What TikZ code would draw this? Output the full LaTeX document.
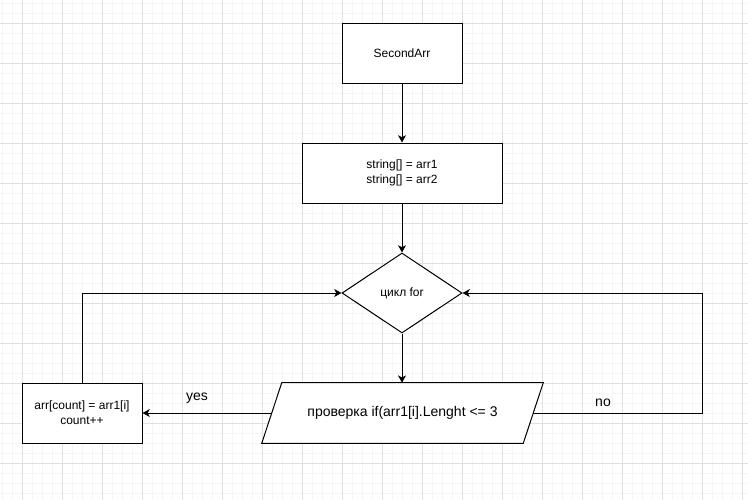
\documentclass[tikz,border=0pt]{standalone}
\usepackage{fontspec}
\setmainfont{Liberation Sans}
\usetikzlibrary{shapes.geometric,arrows.meta}
\definecolor{gridmajor}{HTML}{E0E0E0}
\definecolor{gridminor}{HTML}{F5F5F5}
\tikzset{
  minorgrid/.style={draw=gridminor, line width=0.75pt},
  majorgrid/.style={draw=gridmajor, line width=0.75pt},
  procbox/.style={draw, line width=0.75pt, fill=white, font=\fontsize{9}{11}\selectfont, align=center, inner sep=0pt},
  decision/.style={diamond, draw, line width=0.75pt, fill=white, minimum width=90pt, minimum height=60pt, inner sep=0pt, aspect=1.5, font=\fontsize{9}{11}\selectfont},
  ghost/.style={inner sep=0pt, minimum width=195.75pt, minimum height=45pt, font=\fontsize{10.5}{12}\selectfont},
  conn/.style={line width=0.75pt, -{Stealth[length=5.5pt,width=6pt,inset=1.5pt]}},
  lbl/.style={font=\fontsize{10.5}{12}\selectfont, inner sep=0pt}
}
\begin{document}
\begin{tikzpicture}[x=0.75pt,y=-0.75pt]
\fill[white] (0,0) rectangle (748,500);
\useasboundingbox (0,0) rectangle (748,500);
\foreach \x in {2,12,...,742} \draw[minorgrid] (\x,0) -- (\x,500);
\foreach \y in {3,13,...,493} \draw[minorgrid] (0,\y) -- (748,\y);
\foreach \x in {22,62,...,742} \draw[majorgrid] (\x,0) -- (\x,500);
\foreach \y in {23,63,...,493} \draw[majorgrid] (0,\y) -- (748,\y);

\node[procbox, minimum width=90pt, minimum height=45pt] (a) at (402,53) {SecondArr};
\node[procbox, minimum width=150pt, minimum height=45pt] (b) at (402,173) {string[] = arr1\\string[] = arr2};
\node[decision] (d) at (402,293) {цикл for};
\node[ghost] (p) at (402.5,413) {};
\draw[line width=0.75pt, fill=white] ([xshift=7.5pt]p.north west) -- ([xshift=7.5pt]p.north east) -- ([xshift=-7.5pt]p.south east) -- ([xshift=-7.5pt]p.south west) -- cycle;
\node[ghost] at (p) {проверка if(arr1[i].Lenght <= 3};
\node[procbox, minimum width=90pt, minimum height=45pt, font=\fontsize{9}{11}\selectfont] (c) at (82,413) {arr[count] = arr1[i]\\count++};
\coordinate (r) at (702,413);

\draw[conn] (a) -- (b);
\draw[conn] (b) -- (d);
\draw[conn] (d.south) -- (d.south |- p.north);
\draw[conn] (p.west) -- (c.east);
\draw[conn] (c.north) |- (d.west);
\draw[conn] (p.east) -- (r) |- (d.east);

\node[lbl] (yes) at (197,398) {yes};
\node[lbl] (no) at (603,403) {no};
\end{tikzpicture}
\end{document}
